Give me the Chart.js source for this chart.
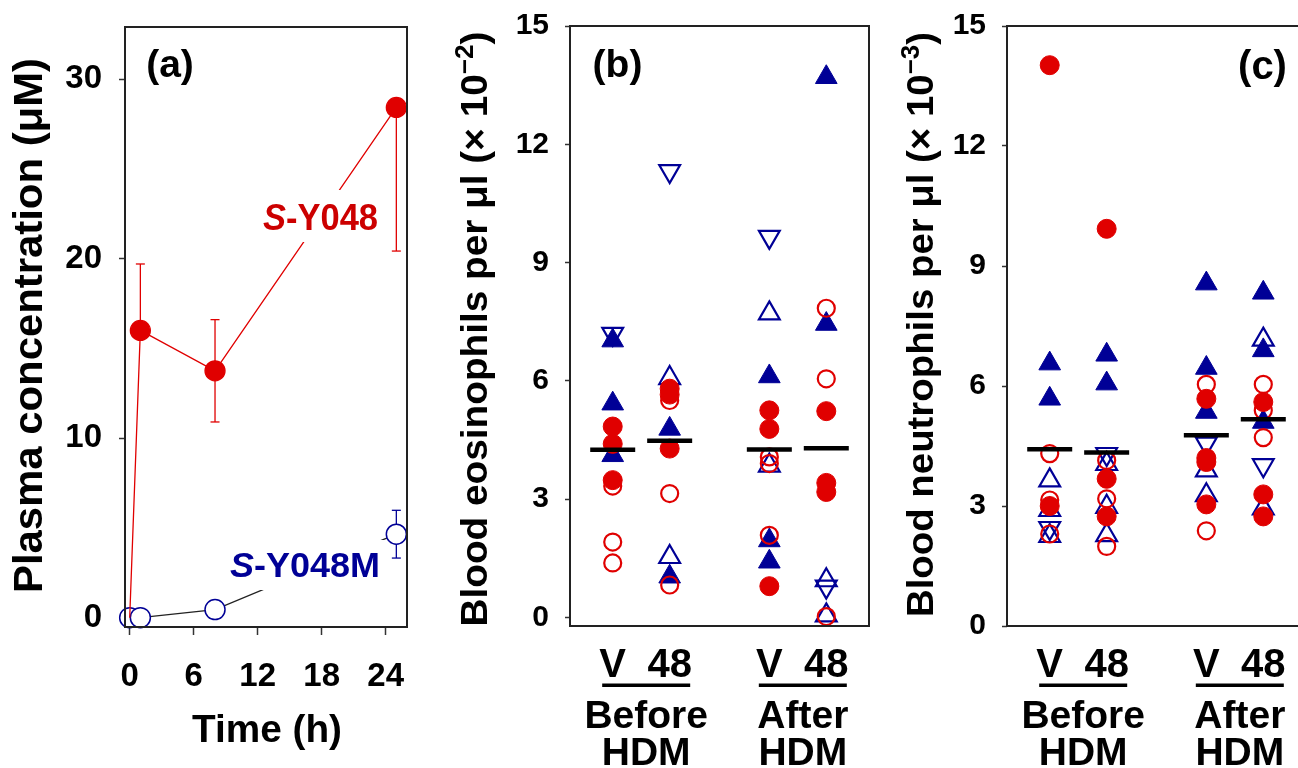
<!DOCTYPE html>
<html><head><meta charset="utf-8">
<script src="https://cdn.jsdelivr.net/npm/chart.js@4.4.1/dist/chart.umd.min.js"></script>
<style>
html,body{margin:0;padding:0;background:#fff;overflow:hidden;width:1298px;height:768px;}
canvas.c{position:absolute;top:0;}
</style></head><body>
<canvas id="ca" class="c" style="left:0px;width:420px;height:768px" width="420" height="768"></canvas>
<canvas id="cb" class="c" style="left:430px;width:445px;height:768px" width="445" height="768"></canvas>
<canvas id="cc" class="c" style="left:860px;width:460px;height:768px" width="460" height="768"></canvas>
<script>
const FONT = '"Liberation Sans", Arial, Helvetica, sans-serif';
const RED = '#e00000', BLUE = '#000096', DARK = '#222', LABELRED = '#cc0000';

// ---------- Panel (a) data ----------
const timeH = [0, 1, 8, 25];
const sY048 = [0, 16.0, 13.75, 28.42];
const sY048ErrUp = [0, 3.7, 2.85, 0];
const sY048ErrDown = [0, 0, 2.85, 8.0];
const sY048M = [0, 0, 0.45, 4.65];
const sY048MErr = [0, 0, 0, 1.33];
const timeTicks = [0, 6, 12, 18, 24];
const concTicks = [0, 10, 20, 30];

// ---------- Panels (b), (c) shared ----------
const groupPos = [0.75, 1.75, 3.5, 4.5];           // V / 48 before HDM, V / 48 after HDM
const subLabels = ['V', '48', 'V', '48'];
const groupLabels = ['Before', 'After'];
const groupLabel2 = 'HDM';
const countTicks = [0, 3, 6, 9, 12, 15];

// ---------- Panel (b): eosinophils (x 10^-2 per ul) ----------
const eosRedFilled   = [[4.84, 4.40, 3.48], [5.80, 5.65, 4.28], [5.25, 4.78, 0.79], [5.23, 3.41, 3.18]];
const eosRedOpen     = [[3.33, 1.91, 1.38], [5.50, 3.14, 0.82], [4.07, 3.90, 2.08], [7.84, 6.05, 0.02]];
const eosBlueFilled  = [[7.02, 5.42, 4.11], [4.78, 1.03], [6.11, 1.95, 1.41], [13.7, 7.44]];
const eosBlueOpen    = [[], [6.07, 1.53], [7.71, 3.85], [0.94, 0.05]];
const eosBlueOpenInv = [[7.19], [11.32], [9.65], [0.78]];
const eosMedian      = [4.25, 4.48, 4.26, 4.29];

// ---------- Panel (c): neutrophils (x 10^-3 per ul) ----------
const neuRedFilled   = [[14.02, 3.0], [9.93, 3.68, 2.74], [5.68, 4.2, 4.1, 3.04], [5.6, 3.29, 2.74]];
const neuRedOpen     = [[4.31, 3.15, 2.3], [4.14, 3.18, 1.99], [6.04, 2.38], [6.04, 5.39, 4.71]];
const neuBlueFilled  = [[6.56, 5.68], [6.78, 6.06], [8.56, 6.45, 5.35], [8.33, 6.89, 5.1]];
const neuBlueOpen    = [[3.64, 2.9, 2.25], [4.05, 2.98, 2.27], [3.89, 3.27], [7.16, 2.94]];
const neuBlueOpenInv = [[2.45], [4.3], [4.56], [4.02]];
const neuMedian      = [4.42, 4.34, 4.77, 5.17];

// ---------- helpers ----------
function fontStr(r) { return (r.italic ? 'italic ' : '') + 'bold ' + r.size + 'px ' + FONT; }
function drawRuns(ctx, runs, x, y, opt) {
  opt = opt || {};
  ctx.save();
  ctx.translate(x, y);
  if (opt.rotate) ctx.rotate(opt.rotate);
  ctx.textBaseline = 'alphabetic';
  ctx.textAlign = 'left';
  let total = 0;
  const ws = runs.map(r => { ctx.font = fontStr(r); const w = ctx.measureText(r.t).width; total += w; return w; });
  const s = opt.width ? opt.width / total : 1;
  ctx.scale(s, 1);
  let cx = -total / 2;
  ctx.fillStyle = opt.color || '#000';
  runs.forEach((r, i) => { ctx.font = fontStr(r); ctx.fillText(r.t, cx, r.dy || 0); cx += ws[i]; });
  ctx.restore();
}
function frame(chart) {
  const a = chart.chartArea, ctx = chart.ctx;
  ctx.save();
  ctx.strokeStyle = DARK; ctx.lineWidth = 2;
  ctx.strokeRect(a.left, a.top, a.right - a.left, a.bottom - a.top);
  ctx.restore();
}
function fixedTicks(arr) { return s => { s.ticks = arr.map(v => ({ value: v })); }; }
function fitBox(w, h) {
  return s => {
    if (w !== null) s.width = w;
    if (h !== null) s.height = h;
    s.paddingLeft = 0; s.paddingRight = 0; s.paddingTop = 0; s.paddingBottom = 0;
  };
}

// ---------- Chart (a) ----------
const errPlugin = {
  id: 'err',
  beforeDatasetsDraw(chart) {
    const ctx = chart.ctx, xs = chart.scales.x, ys = chart.scales.y;
    function bars(vals, up, dn, col) {
      ctx.save(); ctx.strokeStyle = col; ctx.lineWidth = 1.3;
      vals.forEach((v, i) => {
        const px = xs.getPixelForValue(timeH[i]);
        const pts = [];
        if (up[i] > 0) pts.push(ys.getPixelForValue(v + up[i]));
        if (dn[i] > 0) pts.push(ys.getPixelForValue(v - dn[i]));
        pts.forEach(py => {
          ctx.beginPath(); ctx.moveTo(px, ys.getPixelForValue(v)); ctx.lineTo(px, py); ctx.stroke();
          ctx.beginPath(); ctx.moveTo(px - 4.5, py); ctx.lineTo(px + 4.5, py); ctx.stroke();
        });
      });
      ctx.restore();
    }
    bars(sY048, sY048ErrUp, sY048ErrDown, RED);
    bars(sY048M, sY048MErr, sY048MErr, BLUE);
  },
  afterDatasetsDraw(chart) {
    const ctx = chart.ctx;
    ctx.save(); ctx.fillStyle = '#fff';
    ctx.fillRect(258, 190, 125, 52);
    ctx.fillRect(226, 540, 158, 50);
    ctx.restore();
    drawRuns(ctx, [{ t: 'S', size: 36, italic: true }, { t: '-Y048', size: 36 }], 320.5, 230, { width: 115, color: LABELRED });
    drawRuns(ctx, [{ t: 'S', size: 35, italic: true }, { t: '-Y048M', size: 35 }], 305, 576.7, { width: 150, color: BLUE });
    frame(chart);
    drawRuns(ctx, [{ t: '(a)', size: 39 }], 170, 77, {});
    drawRuns(ctx, [{ t: 'Time (h)', size: 38 }], 267, 741.7, { width: 150 });
    drawRuns(ctx, [{ t: 'Plasma concentration (\u03bcM)', size: 40 }], 41.7, 325.5, { rotate: -Math.PI / 2, width: 535 });
  }
};

const tickGrid = (len) => ({ drawOnChartArea: false, drawTicks: true, tickLength: len, tickColor: '#333', tickWidth: 1.5, color: '#333' });

new Chart(document.getElementById('ca'), {
  type: 'scatter',
  data: {
    datasets: [
      {
        data: timeH.map((t, i) => ({ x: t, y: sY048[i] })),
        showLine: true, borderColor: RED, borderWidth: 1.3,
        pointRadius: [0, 10, 10, 10], pointBackgroundColor: RED, pointBorderColor: RED,
        pointStyle: 'circle', clip: false, order: 0
      },
      {
        data: timeH.map((t, i) => ({ x: t, y: sY048M[i] })),
        showLine: true, borderColor: DARK, borderWidth: 1.3,
        pointRadius: 10, pointBackgroundColor: '#fff', pointBorderColor: BLUE, pointBorderWidth: 1.5,
        pointStyle: 'circle', clip: false, order: 1
      }
    ]
  },
  options: {
    responsive: false, animation: false, events: [],
    layout: { autoPadding: false, padding: { left: 0, top: 27, right: 13, bottom: 81 } },
    plugins: { legend: { display: false }, tooltip: { enabled: false } },
    scales: {
      x: {
        type: 'linear', min: -0.44, max: 26,
        afterBuildTicks: fixedTicks(timeTicks),
        afterFit: fitBox(null, 60),
        ticks: { font: { family: FONT, size: 33, weight: 'bold' }, color: '#000', padding: 22, maxRotation: 0, autoSkip: false },
        grid: tickGrid(8), border: { display: false }
      },
      y: {
        type: 'linear', min: -0.52, max: 32.9,
        afterBuildTicks: fixedTicks(concTicks),
        afterFit: fitBox(125, null),
        ticks: { font: { family: FONT, size: 33, weight: 'bold' }, color: '#000', padding: 17 },
        grid: tickGrid(6), border: { display: false }
      }
    }
  },
  plugins: [errPlugin]
});

// ---------- Charts (b) and (c) ----------
function pts(groups) { return groups.flatMap((vals, i) => vals.map(v => ({ x: groupPos[i], y: v }))); }
function groupDatasets(rf, ro, bf, bo, bi, med) {
  return [
    { data: groupPos.map((p, i) => ({ x: p, y: med[i] })), pointStyle: 'line', pointRadius: 22.5, pointBorderWidth: 4.5, pointBorderColor: '#000', order: 0 },
    { data: pts(rf), pointStyle: 'circle', pointRadius: 9.5, pointBackgroundColor: RED, pointBorderColor: RED, pointBorderWidth: 1, order: 1 },
    { data: pts(ro), pointStyle: 'circle', pointRadius: 8.5, pointBackgroundColor: 'rgba(255,255,255,0)', pointBorderColor: RED, pointBorderWidth: 2.2, order: 2 },
    { data: pts(bf), pointStyle: 'triangle', pointRadius: 12.5, pointBackgroundColor: BLUE, pointBorderColor: BLUE, pointBorderWidth: 1, order: 3 },
    { data: pts(bi), pointStyle: 'triangle', pointRotation: 180, pointRadius: 12, pointBackgroundColor: 'rgba(255,255,255,0)', pointBorderColor: BLUE, pointBorderWidth: 2.2, order: 4 },
    { data: pts(bo), pointStyle: 'triangle', pointRadius: 12, pointBackgroundColor: 'rgba(255,255,255,0)', pointBorderColor: BLUE, pointBorderWidth: 2.2, order: 5 }
  ].map(d => Object.assign({ clip: false }, d));
}
function countChart(id, datasets, yMin, pad, yw, decor) {
  return new Chart(document.getElementById(id), {
    type: 'scatter',
    data: { datasets },
    options: {
      responsive: false, animation: false, events: [],
      layout: { autoPadding: false, padding: pad },
      plugins: { legend: { display: false }, tooltip: { enabled: false } },
      scales: {
        x: {
          type: 'linear', min: 0, max: 5.25,
          afterFit: fitBox(null, 60),
          ticks: { display: false }, grid: { display: false }, border: { display: false }
        },
        y: {
          type: 'linear', min: yMin, max: 15,
          afterBuildTicks: fixedTicks(countTicks),
          afterFit: fitBox(yw, null),
          ticks: { font: { family: FONT, size: 30, weight: 'bold' }, color: '#000', padding: 16 },
          grid: tickGrid(5), border: { display: false }
        }
      }
    },
    plugins: [{ id: 'decor', afterDatasetsDraw: decor }]
  });
}
function catLabels(chart) {
  const ctx = chart.ctx, xs = chart.scales.x;
  const px = groupPos.map(v => xs.getPixelForValue(v));
  subLabels.forEach((t, i) => drawRuns(ctx, [{ t, size: 40 }], px[i], 676.7, {}));
  for (let g = 0; g < 2; g++) {
    const c = (px[2 * g] + px[2 * g + 1]) / 2 + 5;
    ctx.save(); ctx.fillStyle = '#000'; ctx.fillRect(c - 44, 683.5, 88, 3.5); ctx.restore();
    drawRuns(ctx, [{ t: groupLabels[g], size: 39 }], c, 728.3, {});
    drawRuns(ctx, [{ t: groupLabel2, size: 39 }], c, 765, {});
  }
}

countChart('cb', groupDatasets(eosRedFilled, eosRedOpen, eosBlueFilled, eosBlueOpen, eosBlueOpenInv, eosMedian),
  -0.22, { left: 0, top: 26, right: 6, bottom: 82 }, 140, chart => {
    frame(chart);
    catLabels(chart);
    drawRuns(chart.ctx, [{ t: '(b)', size: 39 }], 187.5, 77, {});
    drawRuns(chart.ctx, [{ t: 'Blood eosinophils per \u03bcl (\u00d7 10', size: 37 }, { t: '\u22122', size: 25, dy: -14 }, { t: ')', size: 37 }],
      56.7, 329, { rotate: -Math.PI / 2, width: 595 });
  });

countChart('cc', groupDatasets(neuRedFilled, neuRedOpen, neuBlueFilled, neuBlueOpen, neuBlueOpenInv, neuMedian),
  0, { left: 0, top: 26, right: 14, bottom: 82 }, 147, chart => {
    frame(chart);
    catLabels(chart);
    drawRuns(chart.ctx, [{ t: '(c)', size: 40 }], 402.5, 79, {});
    drawRuns(chart.ctx, [{ t: 'Blood neutrophils per \u03bcl (\u00d7 10', size: 37 }, { t: '\u22123', size: 25, dy: -14 }, { t: ')', size: 37 }],
      73.3, 324.5, { rotate: -Math.PI / 2, width: 585 });
  });
</script>
</body></html>
